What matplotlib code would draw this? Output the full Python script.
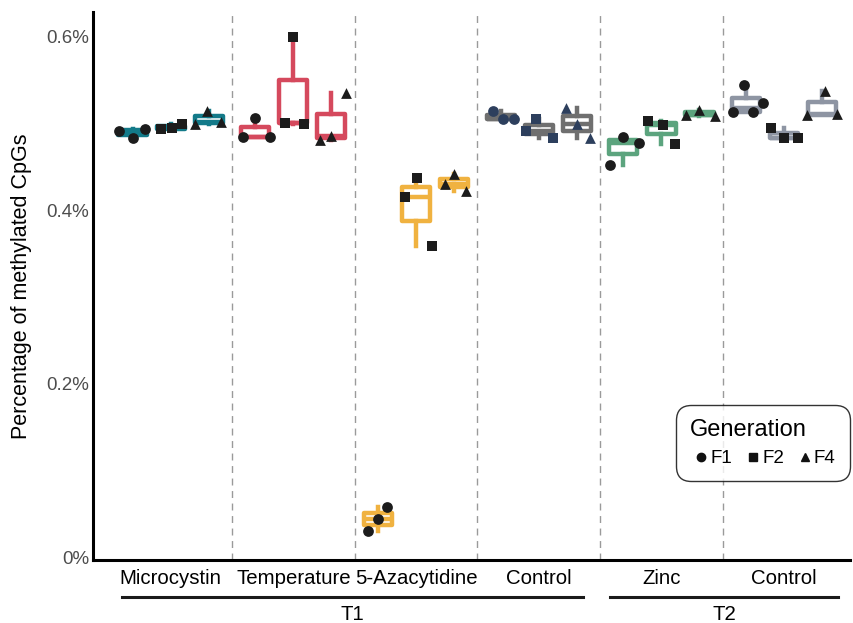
import numpy as np
import matplotlib.pyplot as plt
from matplotlib.lines import Line2D
from matplotlib.ticker import FuncFormatter
import matplotlib.transforms as mtransforms

plt.rcParams['font.family'] = ['Liberation Sans', 'DejaVu Sans']

treatments = ['Microcystin', 'Temperature', '5-Azacytidine', 'Control', 'Zinc', 'Control']
generations = ['F1', 'F2', 'F4']
experiments = ['T1', 'T2']

# percentage of methylated CpGs, one list per treatment x generation
microcystin = [[0.492, 0.483, 0.494], [0.494, 0.495, 0.500], [0.500, 0.515, 0.502]]
temperature = [[0.485, 0.507, 0.485], [0.501, 0.600, 0.500], [0.481, 0.486, 0.536]]
azacytidine = [[0.031, 0.044, 0.058], [0.416, 0.438, 0.359], [0.431, 0.442, 0.422]]
control_t1 = [[0.515, 0.506, 0.506], [0.506, 0.492, 0.484], [0.518, 0.500, 0.483]]
zinc = [[0.453, 0.485, 0.478], [0.503, 0.499, 0.477], [0.510, 0.516, 0.509]]
control_t2 = [[0.545, 0.513, 0.513, 0.524], [0.495, 0.483, 0.484], [0.510, 0.538, 0.511]]

# horizontal jitter of the points inside each box (same shape as data)
jitter = [
    [[-0.11, 0.0, 0.10], [-0.08, 0.01, 0.09], [-0.11, -0.01, 0.10]],
    [[-0.10, 0.0, 0.12], [-0.07, 0.0, 0.09], [-0.09, 0.0, 0.12]],
    [[-0.08, 0.0, 0.07], [-0.09, 0.01, 0.13], [-0.07, 0.0, 0.10]],
    [[-0.06, 0.02, 0.11], [-0.02, -0.10, 0.12], [-0.09, 0.0, 0.11]],
    [[-0.11, 0.0, 0.13], [-0.11, 0.01, 0.11], [-0.11, 0.0, 0.13]],
    [[-0.02, -0.11, 0.06, 0.14], [-0.11, 0.0, 0.11], [-0.12, 0.02, 0.12]],
]

data = [microcystin, temperature, azacytidine, control_t1, zinc, control_t2]
box_colors = ['#137a89', '#d5495d', '#f0b240', '#6f6f6f', '#5ca47e', '#8e95a3']
point_colors = ['#1c1c1c', '#1c1c1c', '#1c1c1c', '#2d3f5d', '#1c1c1c', '#1c1c1c']
markers = ['o', 's', '^']
offsets = [-0.31, 0.0, 0.31]

fig = plt.figure(figsize=(8.54, 6.23), dpi=100)
ax = fig.add_axes([0.109, 0.101, 0.886, 0.880])

for i, group in enumerate(data):
    for j, vals in enumerate(group):
        pos = i + 1 + offsets[j]
        c = box_colors[i]
        ax.boxplot([vals], positions=[pos], widths=0.23, whis=10,
                   patch_artist=True, showcaps=False, showfliers=False,
                   boxprops=dict(facecolor='white', edgecolor=c, linewidth=3.2,
                                 joinstyle='round'),
                   medianprops=dict(color=c, linewidth=3.2),
                   whiskerprops=dict(color=c, linewidth=3.2),
                   manage_ticks=False, zorder=2)
        xs = pos + np.array(jitter[i][j])
        ax.scatter(xs, vals, marker=markers[j], s=60, color=point_colors[i],
                   zorder=3, linewidths=0)

for x in np.arange(1.5, 6.0, 1.0):
    ax.axvline(x, color='#9a9a9a', linestyle=(0, (5, 4)), linewidth=1, zorder=1)

ax.set_xlim(0.368, 6.535)
ax.set_ylim(-0.003, 0.629)
ax.set_yticks([0, 0.2, 0.4, 0.6])
ax.yaxis.set_major_formatter(FuncFormatter(lambda v, p: '0%' if v == 0 else f'{v:.1f}%'))
ax.tick_params(axis='y', labelsize=13.5, labelcolor='#4d4d4d', length=0, pad=3)
ax.set_xticks([])
ax.set_ylabel('Percentage of methylated CpGs', fontsize=15.5, labelpad=10)

for side in ['top', 'right']:
    ax.spines[side].set_visible(False)
ax.spines['left'].set_linewidth(2.2)
ax.spines['bottom'].set_linewidth(2.2)

trans = mtransforms.blended_transform_factory(ax.transData, ax.transAxes)
for i, name in enumerate(treatments):
    ax.text(i + 1.0, -0.033, name, transform=trans, ha='center', va='center',
            fontsize=14.7)
ax.plot([0.604, 4.36], [-0.068, -0.068], transform=trans, color='#1a1a1a',
        linewidth=2.2, clip_on=False)
ax.plot([4.58, 6.437], [-0.068, -0.068], transform=trans, color='#1a1a1a',
        linewidth=2.2, clip_on=False)
ax.text(2.48, -0.099, experiments[0], transform=trans, ha='center', va='center', fontsize=14.7)
ax.text(5.51, -0.099, experiments[1], transform=trans, ha='center', va='center', fontsize=14.7)

handles = [Line2D([], [], marker=m, color='#111111', linestyle='None', markersize=6)
           for m in markers]
leg = ax.legend(handles, generations, title='Generation', ncol=3,
                loc='lower right', bbox_to_anchor=(1.0, 0.144), borderaxespad=0,
                fontsize=13.5, title_fontsize=17, handletextpad=-0.1,
                columnspacing=0.5, handlelength=1.2, frameon=True, fancybox=True,
                borderpad=0.75)
leg.get_frame().set_edgecolor('black')
leg.get_frame().set_linewidth(1)
leg.get_frame().set_boxstyle('round', pad=0, rounding_size=0.8)
leg._legend_box.align = 'left'

fig.savefig('out.png', dpi=100)
